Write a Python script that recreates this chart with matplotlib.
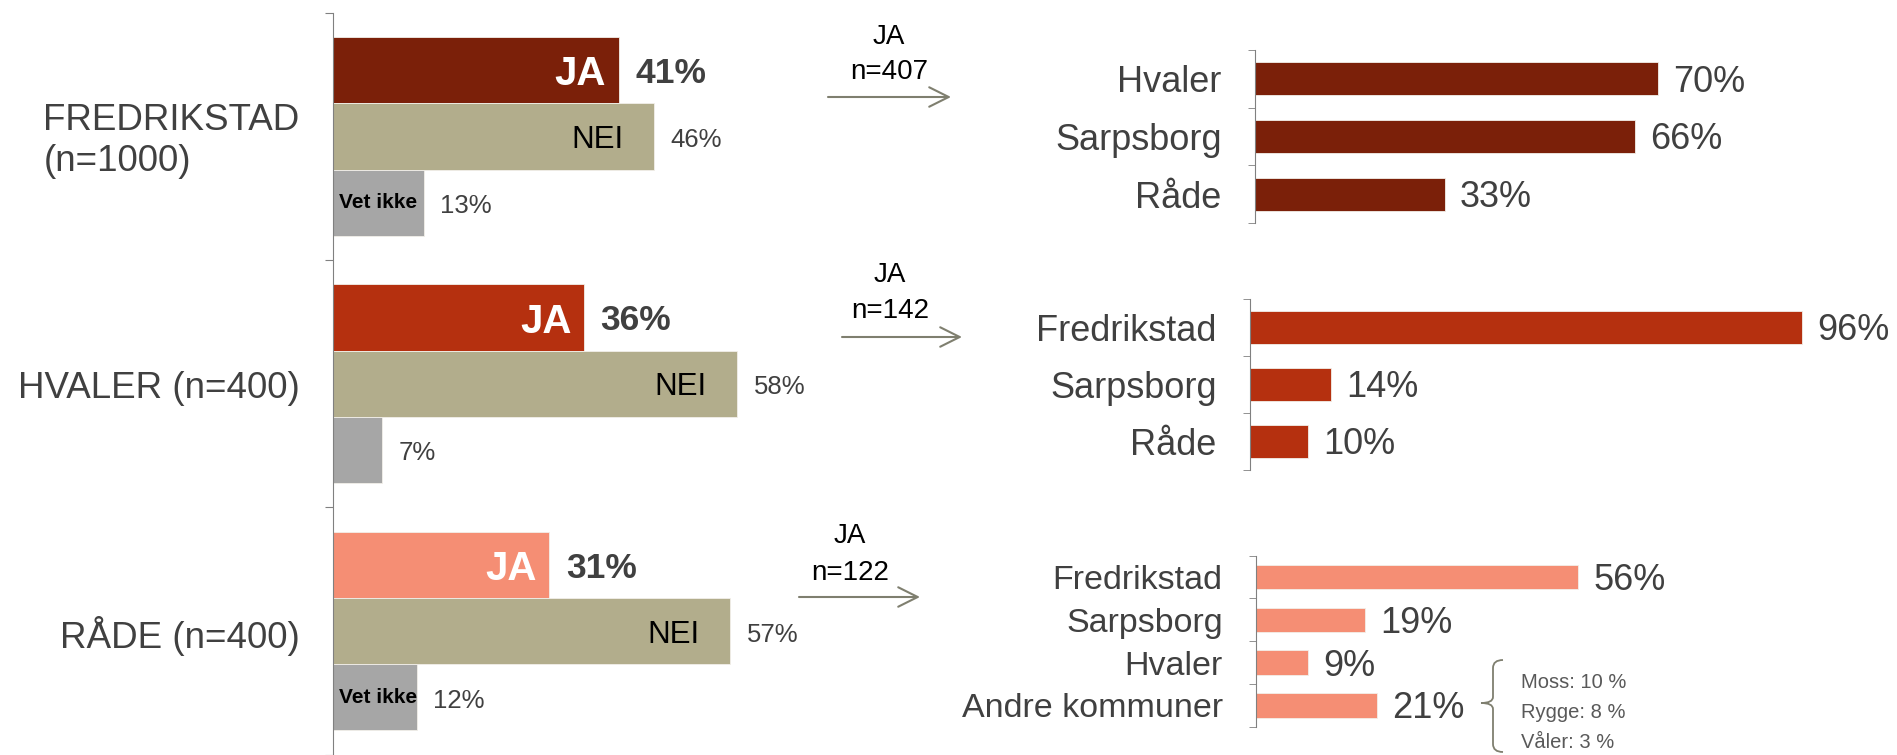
import matplotlib
matplotlib.use('Agg')
import matplotlib.pyplot as plt
from matplotlib.path import Path
from matplotlib.patches import PathPatch

plt.rcParams['font.family'] = ['Liberation Sans', 'DejaVu Sans']

# --- data ---
groups = ['FREDRIKSTAD\n(n=1000)', 'HVALER (n=400)', 'RÅDE (n=400)']
ja = [41, 36, 31]
nei = [46, 58, 57]
vet_ikke = [13, 7, 12]
ja_n = ['n=407', 'n=142', 'n=122']

dest1 = ['Hvaler', 'Sarpsborg', 'Råde']
val1 = [70, 66, 33]
dest2 = ['Fredrikstad', 'Sarpsborg', 'Råde']
val2 = [96, 14, 10]
dest3 = ['Fredrikstad', 'Sarpsborg', 'Hvaler', 'Andre kommuner']
val3 = [56, 19, 9, 21]
andre = ['Moss: 10 %', 'Rygge: 8 %', 'Våler: 3 %']

ja_colors = ['#7B2009', '#B5300F', '#F58E74']
nei_color = '#B2AD8C'
vet_color = '#A6A6A6'
txt = '#404040'
arrow_col = '#7F7F6F'

W, H = 1897, 755
fig = plt.figure(figsize=(W / 100, H / 100), dpi=100)


def px_axes(x0, y0, x1, y1):
    return fig.add_axes([x0 / W, 1 - y1 / H, (x1 - x0) / W, (y1 - y0) / H])


def fx(x):
    return x / W


def fy(y):
    return 1 - y / H


# --- left panel ---
axL = px_axes(333, 12.7, 333 + 697, 754.7)
bh = 0.268
dy = -2.5  # nudge labels without descenders down a little
for g in range(len(groups)):
    vals = [ja[g], nei[g], vet_ikke[g]]
    cols = [ja_colors[g], nei_color, vet_color]
    ys = [g - bh, g, g + bh]
    axL.barh(ys, vals, height=bh, color=cols, edgecolor='#f2efe9', linewidth=0.6)

    axL.annotate('JA', (ja[g], g - bh), xytext=(-9, -3), textcoords='offset points',
                 ha='right', va='center', color='white', weight='bold', fontsize=29)
    axL.annotate(f'{ja[g]}%', (ja[g], g - bh), xytext=(12, dy), textcoords='offset points',
                 ha='left', va='center', color=txt, weight='bold', fontsize=25.5)
    axL.annotate('NEI', (nei[g], g), xytext=(-22, dy), textcoords='offset points',
                 ha='right', va='center', color='black', fontsize=22.5)
    axL.annotate(f'{nei[g]}%', (nei[g], g), xytext=(12, dy), textcoords='offset points',
                 ha='left', va='center', color=txt, fontsize=18.5)
    if vet_ikke[g] >= 10:
        axL.annotate('Vet ikke', (0, g + bh), xytext=(4, 0), textcoords='offset points',
                     ha='left', va='center', color='black', weight='bold', fontsize=15)
    axL.annotate(f'{vet_ikke[g]}%', (vet_ikke[g], g + bh), xytext=(12, dy), textcoords='offset points',
                 ha='left', va='center', color=txt, fontsize=18.5)

    axL.annotate(groups[g], (0, g), xytext=(-24, -3.5), textcoords='offset points',
                 ha='right', va='center', multialignment='left',
                 fontsize=26.5, color=txt, linespacing=1.22)

axL.set_xlim(0, 100)
axL.set_ylim(len(groups) - 0.5, -0.5)
axL.set_yticks([i - 0.5 for i in range(len(groups) + 1)])
axL.set_yticklabels([])
axL.tick_params(axis='y', length=6, color='#808080', direction='out')
axL.set_xticks([])
for s in ['top', 'right', 'bottom']:
    axL.spines[s].set_visible(False)
axL.spines['left'].set_color('#808080')

# --- JA n=... labels and arrows ---
mid = [(889, 37, 72, 828, 951, 97),
       (890, 275, 311, 842, 962, 337),
       (850, 536, 573, 799, 920, 597)]
for (cx, yja, yn, xa0, xa1, ya), n in zip(mid, ja_n):
    fig.text(fx(cx), fy(yja), 'JA', ha='center', va='center', fontsize=20, color='black')
    fig.text(fx(cx), fy(yn), n, ha='center', va='center', fontsize=20, color='black')
    fig.add_artist(plt.Annotation('', xy=(fx(xa1), fy(ya)), xytext=(fx(xa0), fy(ya)),
                                  xycoords='figure fraction', textcoords='figure fraction',
                                  arrowprops=dict(arrowstyle='->,head_length=0.7,head_width=0.35',
                                                  color=arrow_col, lw=1.5, mutation_scale=20,
                                                  shrinkA=0, shrinkB=0)))


# --- right panels ---
def dest_panel(rect, labels, vals, color, label_size):
    ax = px_axes(*rect)
    y = list(range(len(vals)))
    ax.barh(y, vals, height=0.57, color=color, edgecolor='#f2efe9', linewidth=0.6)
    ax.set_xlim(0, 100)
    ax.set_ylim(len(vals) - 0.5, -0.5)
    ax.set_yticks(y)
    ax.set_yticklabels(labels, fontsize=label_size, color=txt)
    ax.tick_params(axis='y', which='major', length=0, pad=24)
    ax.set_yticks([i - 0.5 for i in range(len(vals) + 1)], minor=True)
    ax.tick_params(axis='y', which='minor', length=5, color='#808080')
    ax.set_xticks([])
    for s in ['top', 'right', 'bottom']:
        ax.spines[s].set_visible(False)
    ax.spines['left'].set_color('#808080')
    for yi, v in zip(y, vals):
        ax.annotate(f'{v}%', (v, yi), xytext=(11, -2.5), textcoords='offset points',
                    ha='left', va='center', fontsize=26, color=txt)
    return ax


dest_panel((1255, 50, 1830, 223), dest1, val1, ja_colors[0], 26)
dest_panel((1250, 299, 1825, 470), dest2, val2, ja_colors[1], 26)
dest_panel((1256, 555.7, 1831, 726.7), dest3, val3, ja_colors[2], 24.5)

# --- brace with breakdown of "Andre kommuner" ---
bx, tx = 1493, 1481
pts = [(1503, 660), (bx, 660), (bx, 668), (bx, 697), (bx, 703), (tx, 703),
       (bx, 703), (bx, 709), (bx, 744), (bx, 752), (1503, 752)]
codes = [Path.MOVETO, Path.CURVE3, Path.CURVE3, Path.LINETO, Path.CURVE3, Path.CURVE3,
         Path.CURVE3, Path.CURVE3, Path.LINETO, Path.CURVE3, Path.CURVE3]
brace = Path([(fx(x), fy(y)) for x, y in pts], codes)
fig.add_artist(PathPatch(brace, fill=False, ec=arrow_col, lw=1.3, transform=fig.transFigure))
for lab, yy in zip(andre, [683, 713, 743]):
    fig.text(fx(1521), fy(yy), lab, ha='left', va='center', fontsize=14.5, color='#595959')

fig.savefig('out.png', dpi=100)
